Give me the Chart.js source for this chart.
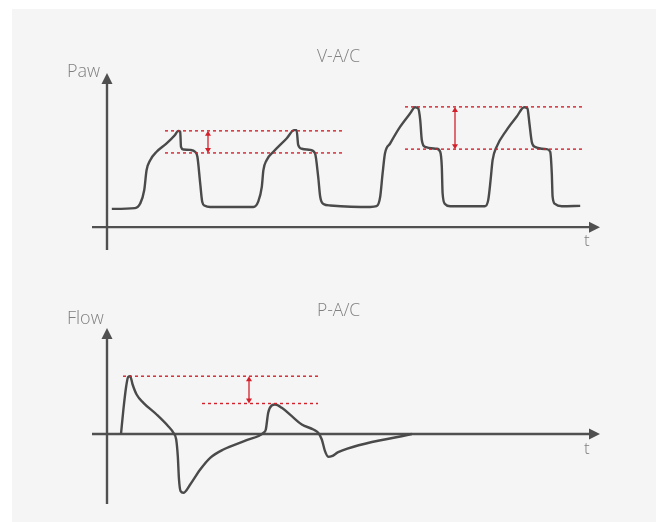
<!DOCTYPE html>
<html>
<head>
<meta charset="utf-8">
<script src="https://cdn.jsdelivr.net/npm/chart.js@4.4.1/dist/chart.umd.min.js"></script>
<style>
  html,body{margin:0;padding:0;background:#ffffff;}
  #wrap{position:relative;width:656px;height:522px;overflow:hidden;}
  #bg{position:absolute;left:12px;top:9px;right:0;bottom:0;background:#f5f5f5;}
  canvas{position:absolute;left:0;top:0;}
  .lbl{position:absolute;font-family:"Open Sans","Noto Sans",sans-serif;font-weight:300;color:#808080;white-space:nowrap;line-height:1;}
</style>
</head>
<body>
<div id="wrap">
  <div id="bg"></div>
  <canvas id="paw" width="656" height="522"></canvas>
  <canvas id="flow" width="656" height="522"></canvas>
  <div class="lbl" style="left:317px;top:47px;font-size:17.5px;">V-A/C</div>
  <div class="lbl" style="left:67px;top:61px;font-size:18px;">Paw</div>
  <div class="lbl" style="left:584px;top:231px;font-size:17px;">t</div>
  <div class="lbl" style="left:317px;top:301px;font-size:17.5px;">P-A/C</div>
  <div class="lbl" style="left:67px;top:308px;font-size:18px;">Flow</div>
  <div class="lbl" style="left:584px;top:439px;font-size:17px;">t</div>
</div>
<script>
// ---- Paw waveform (V-A/C): time in s, pressure in cmH2O ----
const pawTime = [0.12,0.70,0.83,0.93,0.99,1.08,1.24,1.49,1.70,1.78,1.83,1.85,1.91,2.08,2.20,2.26,2.33,2.38,2.45,2.58,
  3.66,3.78,3.87,3.91,3.99,4.16,4.49,4.68,4.74,4.78,4.87,5.08,5.20,5.28,5.33,5.41,5.58,
  6.58,6.74,6.83,6.89,6.95,7.08,7.33,7.58,7.70,7.78,7.83,7.87,7.95,8.24,8.33,8.37,8.39,8.45,8.58,
  9.45,9.53,9.59,9.64,9.74,9.99,10.24,10.43,10.51,10.56,10.62,10.70,10.99,11.08,11.12,11.14,11.20,11.37,11.83];
const pawValue = [4.8,5.0,6.2,9.7,15.0,17.6,19.8,22.0,24.2,25.3,25.1,21.1,20.4,20.3,19.8,18.5,11.5,6.7,5.6,5.3,
  5.3,6.7,10.6,15.0,17.6,19.8,23.3,25.5,25.5,21.6,20.6,20.3,19.4,13.2,8.0,6.1,5.7,
  5.3,5.5,8.0,14.1,19.4,22.0,26.4,29.9,31.5,31.2,28.2,22.9,21.1,20.6,19.8,15.9,8.9,6.1,5.5,
  5.5,7.1,12.4,17.6,21.1,25.5,29.0,31.5,31.2,27.3,22.4,21.1,20.5,19.8,14.1,8.0,6.1,5.5,5.6];
// reference levels (peak / plateau) and their time spans
const pawRefLevel = [25.3, 19.5, 31.6, 20.5];
const pawRefStart = [1.45, 1.45, 7.45, 7.45];
const pawRefEnd   = [5.875, 5.875, 11.875, 11.875];
const pawArrowTime = [2.525, 8.7];
const pawArrowTop = [25.3, 31.6];
const pawArrowBottom = [19.5, 20.5];

// ---- Flow waveform (P-A/C): time in s, flow in L/min ----
const flowTime = [0.35,0.41,0.48,0.53,0.58,0.64,0.74,0.91,1.24,1.53,1.66,1.73,1.77,1.80,1.84,1.91,2.08,2.33,2.58,2.91,3.49,3.91,
  3.97,4.03,4.12,4.20,4.37,4.62,4.87,5.16,5.28,5.37,5.45,5.53,5.62,5.78,7.62];
const flowValue = [0,24.5,47.8,57.2,57.8,49.5,39.5,31.2,19.5,7.8,1.2,-5.5,-22.2,-45.5,-57.2,-58.8,-50.5,-35.5,-23.8,-15.5,-6.2,1.2,
  4.5,21.2,28.5,29.5,26.2,17.8,9.5,4.5,1.2,-5.5,-17.2,-22.8,-22.2,-18.2,0];
const flowRefLevel = [57.8, 30.5];
const flowRefStart = [0.40, 2.375];
const flowRefEnd   = [5.275, 5.275];
const flowArrowTime = [3.55];
const flowArrowTop = [57.8];
const flowArrowBottom = [30.5];

const AXIS = '#505050', WAVE = '#4a4a4a', RED = '#d4202a';

function pts(xs, ys){ return xs.map((x,i)=>({x:x,y:ys[i]})); }

function refDatasets(levels, starts, ends){
  return levels.map((v,i)=>({
    data:[{x:starts[i],y:v},{x:ends[i],y:v}],
    borderColor:RED, borderWidth:1.4, borderDash:[3,3], pointRadius:0, tension:0, order:0
  }));
}

function tri(ctx, tipX, tipY, dir, len, half){
  ctx.beginPath();
  if(dir==='up'){ ctx.moveTo(tipX,tipY); ctx.lineTo(tipX-half,tipY+len); ctx.lineTo(tipX+half,tipY+len); }
  else if(dir==='down'){ ctx.moveTo(tipX,tipY); ctx.lineTo(tipX-half,tipY-len); ctx.lineTo(tipX+half,tipY-len); }
  else { ctx.moveTo(tipX,tipY); ctx.lineTo(tipX-len,tipY-half); ctx.lineTo(tipX-len,tipY+half); }
  ctx.closePath(); ctx.fill();
}

const axesPlugin = {
  id:'axesArrows',
  beforeDatasetsDraw(chart){
    const {ctx, chartArea:a, scales:{x,y}} = chart;
    const x0 = x.getPixelForValue(0), y0 = y.getPixelForValue(0);
    ctx.save();
    ctx.strokeStyle = AXIS; ctx.fillStyle = AXIS; ctx.lineWidth = 2.4;
    ctx.beginPath(); ctx.moveTo(x0, a.bottom); ctx.lineTo(x0, a.top+8); ctx.stroke();
    tri(ctx, x0, a.top, 'up', 11, 5.5);
    ctx.beginPath(); ctx.moveTo(a.left, y0); ctx.lineTo(a.right-8, y0); ctx.stroke();
    tri(ctx, a.right, y0, 'right', 11, 5.5);
    ctx.restore();
  },
  afterDatasetsDraw(chart, args, opts){
    const {ctx, scales:{x,y}} = chart;
    ctx.save();
    ctx.strokeStyle = RED; ctx.fillStyle = RED; ctx.lineWidth = 1.3;
    opts.times.forEach((t,i)=>{
      const px = x.getPixelForValue(t);
      const yt = y.getPixelForValue(opts.tops[i]);
      const yb = y.getPixelForValue(opts.bottoms[i]);
      ctx.beginPath(); ctx.moveTo(px, yt+4); ctx.lineTo(px, yb-4); ctx.stroke();
      tri(ctx, px, yt, 'up', 5, 3);
      tri(ctx, px, yb, 'down', 5, 3);
    });
    ctx.restore();
  }
};

function makeChart(id, wave, refs, yMin, yMax, padTop, padBottom, arrows){
  return new Chart(document.getElementById(id), {
    type:'line',
    data:{ datasets:[
      { data:wave, borderColor:WAVE, borderWidth:2.4, pointRadius:0, cubicInterpolationMode:'monotone', order:1 },
      ...refs
    ]},
    options:{
      responsive:false, animation:false, events:[],
      layout:{ padding:{ left:92, right:56, top:padTop, bottom:padBottom } },
      plugins:{ legend:{display:false}, tooltip:{enabled:false}, title:{display:false}, axesArrows:arrows },
      scales:{
        x:{ type:'linear', min:-0.375, max:12.325, display:false },
        y:{ type:'linear', min:yMin, max:yMax, display:false }
      },
      clip:false
    },
    plugins:[axesPlugin]
  });
}

makeChart('paw', pts(pawTime, pawValue), refDatasets(pawRefLevel, pawRefStart, pawRefEnd),
  -6, 40.5, 73, 272, {times:pawArrowTime, tops:pawArrowTop, bottoms:pawArrowBottom});
makeChart('flow', pts(flowTime, flowValue), refDatasets(flowRefLevel, flowRefStart, flowRefEnd),
  -70, 106, 328, 18, {times:flowArrowTime, tops:flowArrowTop, bottoms:flowArrowBottom});
</script>
</body>
</html>
